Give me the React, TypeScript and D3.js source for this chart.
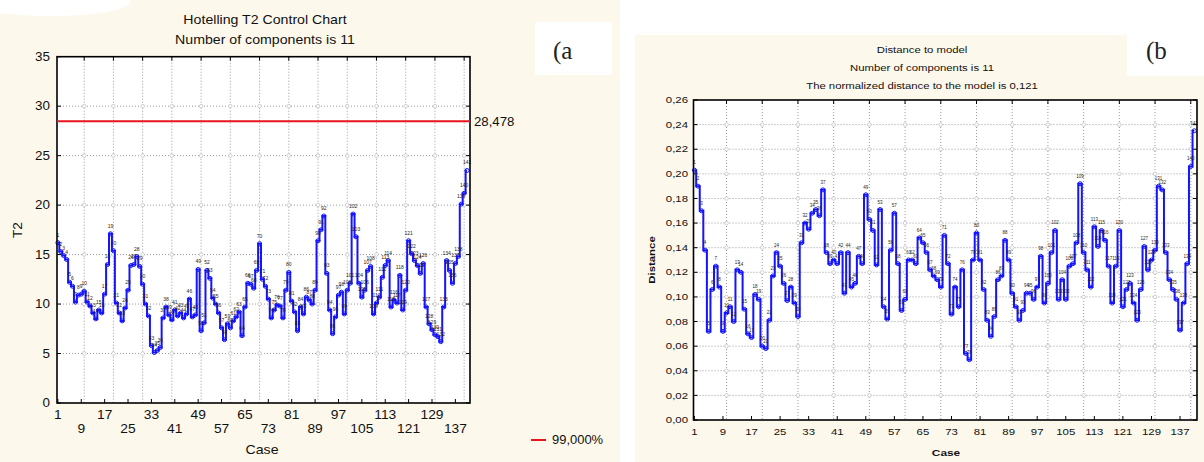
import * as d3 from 'd3'

// case numbers on the x axis (1..141)
const CASES = d3.range(1, 142)

// Hotelling T2 per case
const T2_VALUES = [
  16.2, 15.3, 14.9, 14.5, 12.2, 11.8, 10.2, 10.9, 11.0, 11.3,
  10.2, 9.8, 9.1, 8.5, 9.4, 9.1, 11.0, 14.0, 17.1, 15.4,
  10.1, 9.1, 8.3, 9.6, 11.4, 13.9, 14.0, 14.8, 13.8, 12.0,
  10.0, 8.8, 5.8, 5.1, 5.3, 5.6, 8.6, 9.7, 8.9, 8.4,
  9.4, 8.8, 9.1, 8.6, 9.0, 10.5, 8.7, 8.9, 13.5, 7.3,
  8.1, 13.4, 12.6, 10.6, 10.0, 9.1, 7.6, 6.4, 8.0, 7.6,
  8.3, 8.7, 9.2, 6.8, 9.7, 12.1, 12.0, 11.6, 13.4, 16.1,
  12.5, 11.8, 10.5, 8.6, 9.4, 9.9, 9.8, 8.6, 11.4, 13.2,
  10.3, 9.2, 7.3, 9.7, 9.0, 10.7, 10.4, 10.0, 11.4, 16.4,
  17.5, 18.9, 13.1, 9.4, 7.0, 8.7, 10.9, 11.2, 9.0, 11.4,
  12.1, 19.1, 16.8, 12.1, 10.7, 11.4, 13.4, 13.8, 9.0, 10.1,
  10.7, 12.7, 13.9, 14.4, 9.7, 10.4, 10.1, 12.9, 9.4, 11.4,
  16.4, 15.1, 14.4, 13.9, 13.1, 14.1, 9.7, 8.0, 7.4, 6.9,
  6.7, 6.2, 9.7, 14.4, 13.4, 12.1, 14.1, 14.8, 20.1, 21.2,
  23.5,
]

// distance to model per case
const DIST_VALUES = [
  0.203, 0.19, 0.17, 0.138, 0.072, 0.106, 0.125, 0.108, 0.072, 0.087,
  0.092, 0.08, 0.122, 0.12, 0.09, 0.07, 0.067, 0.102, 0.098, 0.06,
  0.058, 0.081, 0.117, 0.136, 0.125, 0.111, 0.097, 0.108, 0.095, 0.084,
  0.144, 0.16, 0.155, 0.168, 0.171, 0.166, 0.187, 0.136, 0.127, 0.13,
  0.127, 0.136, 0.103, 0.136, 0.108, 0.111, 0.133, 0.127, 0.183, 0.163,
  0.154, 0.126, 0.171, 0.092, 0.082, 0.138, 0.168, 0.127, 0.089, 0.098,
  0.13, 0.13, 0.127, 0.148, 0.144, 0.136, 0.122, 0.117, 0.114, 0.108,
  0.15, 0.127, 0.086, 0.108, 0.092, 0.122, 0.054, 0.049, 0.13, 0.152,
  0.13, 0.106, 0.081, 0.068, 0.084, 0.114, 0.117, 0.146, 0.13, 0.103,
  0.092, 0.081, 0.089, 0.103, 0.103, 0.098, 0.108, 0.133, 0.095, 0.111,
  0.136, 0.154, 0.098, 0.114, 0.098, 0.125, 0.127, 0.144, 0.192, 0.136,
  0.122, 0.108, 0.157, 0.141, 0.154, 0.146, 0.125, 0.095, 0.125, 0.154,
  0.092, 0.106, 0.111, 0.095, 0.081, 0.106, 0.141, 0.122, 0.13, 0.138,
  0.19, 0.187, 0.136, 0.114, 0.106, 0.098, 0.073, 0.095, 0.127, 0.206,
  0.235,
]

const T2_LIMIT = 28.478
const T2_TICKS = [0, 5, 10, 15, 20, 25, 30, 35]
const DIST_TICKS = [0, 0.02, 0.04, 0.06, 0.08, 0.1, 0.12, 0.14, 0.16, 0.18, 0.2, 0.22, 0.24, 0.26]
const CASE_LABELS = [1, 9, 17, 25, 33, 41, 49, 57, 65, 73, 81, 89, 97, 105, 113, 121, 129, 137]
const GRID_CASES = [10, 20, 30, 40, 50, 60, 70, 80, 90, 100, 110, 120, 130, 140]

const CREAM = '#fdf8ec'
const BLUE = '#1414ff'
const FONT = "'Liberation Sans', Arial, sans-serif"

function Txt({ x, y, size, sx = 1, anchor = 'middle', rotate = 0, fill = '#111', weight = 'normal', family = FONT, children }: any) {
  return (
    <text
      transform={`translate(${x},${y}) rotate(${rotate}) scale(${sx},1)`}
      fontSize={size}
      fontFamily={family}
      fontWeight={weight}
      textAnchor={anchor}
      dominantBaseline="central"
      fill={fill}
    >
      {children}
    </text>
  )
}

const comma = (v: number, d: number) => v.toFixed(d).replace('.', ',')

function Panel({ values, x, y, yTicks, fmt, tickSize, tsx, labelX, ptFont }: any) {
  const [x0, x1] = x.range()
  const [y0, y1] = y.range()
  const line = d3
    .line<number>()
    .x((_, i) => x(CASES[i]))
    .y((d) => y(d))
    .curve(d3.curveStep)

  return (
    <g>
      <rect x={x0} y={y1} width={x1 - x0} height={y0 - y1} fill="#fff" />
      {/* grid */}
      {yTicks.filter((t: number) => t > y.domain()[0] && t < y.domain()[1]).map((t: number) => (
        <line key={'h' + t} x1={x0} x2={x1} y1={y(t)} y2={y(t)} stroke="#9a9a9a" strokeDasharray="1 2" />
      ))}
      {GRID_CASES.map((c) => (
        <line key={'v' + c} x1={x(c)} x2={x(c)} y1={y1} y2={y0} stroke="#9a9a9a" strokeDasharray="1 2" />
      ))}
      {GRID_CASES.flatMap((c) =>
        yTicks.filter((t: number) => t > y.domain()[0] && t < y.domain()[1]).map((t: number) => (
          <circle key={c + '-' + t} cx={x(c)} cy={y(t)} r={1.8} fill="#fff" stroke="#c4c4c4" strokeWidth={0.8} />
        ))
      )}
      {/* inner ticks */}
      {yTicks.map((t: number) => (
        <g key={'yt' + t}>
          <line x1={x0} x2={x0 + 4} y1={y(t)} y2={y(t)} stroke="#000" />
          <line x1={x1 - 4} x2={x1} y1={y(t)} y2={y(t)} stroke="#000" />
        </g>
      ))}
      {GRID_CASES.map((c) => (
        <line key={'tt' + c} x1={x(c)} x2={x(c)} y1={y1} y2={y1 + 4} stroke="#000" />
      ))}
      {CASE_LABELS.map((c) => (
        <line key={'bt' + c} x1={x(c)} x2={x(c)} y1={y0} y2={y0 - 4} stroke="#000" />
      ))}
      {/* series */}
      {values.map((v: number, i: number) => (
        <circle key={'m' + i} cx={x(CASES[i])} cy={y(v)} r={2} fill="#fff" stroke={BLUE} strokeWidth={1} />
      ))}
      <path d={line(values) || ''} fill="none" stroke={BLUE} strokeWidth={2} />
      {values.map((v: number, i: number) => (
        <text key={'l' + i} x={x(CASES[i])} y={y(v) - 6} fontSize={ptFont} fontFamily={FONT} textAnchor="middle" fill="#2a1c10">
          {CASES[i]}
        </text>
      ))}
      <rect x={x0} y={y1} width={x1 - x0} height={y0 - y1} fill="none" stroke="#000" strokeWidth={1.6} />
      {/* y labels */}
      {yTicks.map((t: number) => (
        <Txt key={'yl' + t} x={labelX} y={y(t)} size={tickSize} sx={tsx} anchor="end">
          {fmt(t)}
        </Txt>
      ))}
    </g>
  )
}

export default function App() {
  const xA = d3.scaleLinear().domain([0.7, 142]).range([57, 470])
  const yA = d3.scaleLinear().domain([0, 35]).range([403, 56.7])
  const xB = d3.scaleLinear().domain([0.75, 141.75]).range([693.5, 1197])
  const yB = d3.scaleLinear().domain([0, 0.26]).range([420, 100])

  return (
    <svg width={1204} height={462} style={{ position: 'absolute', left: 0, top: 0 }}>
      <rect x={0} y={0} width={1204} height={462} fill={CREAM} />
      <ellipse cx={50} cy={2} rx={80} ry={14} fill="#fff" />
      <rect x={620} y={0} width={584} height={35} fill="#fff" />
      <rect x={620} y={0} width={15} height={462} fill="#fff" />
      <rect x={535} y={22} width={77} height={53} fill="#fff" />
      <rect x={1127} y={0} width={77} height={76} fill="#fff" />
      <Txt x={553} y={50} size={25} anchor="start" family="'Liberation Serif', serif" fill="#222">(a</Txt>
      <Txt x={1146} y={50} size={25} anchor="start" family="'Liberation Serif', serif" fill="#222">(b</Txt>

      {/* panel a */}
      <Txt x={265} y={20} size={12} sx={1.18}>Hotelling T2 Control Chart</Txt>
      <Txt x={265} y={40} size={12} sx={1.18}>Number of components is 11</Txt>
      <Panel values={T2_VALUES} x={xA} y={yA} yTicks={T2_TICKS} fmt={(t: number) => String(t)} tickSize={12} tsx={1.12} labelX={50} ptFont={5} />
      <line x1={xA.range()[0]} x2={xA.range()[1]} y1={yA(T2_LIMIT)} y2={yA(T2_LIMIT)} stroke="#e8141e" strokeWidth={2} />
      <Txt x={474} y={yA(T2_LIMIT) + 1} size={12} sx={1.1} anchor="start">{comma(T2_LIMIT, 3)}</Txt>
      {CASE_LABELS.map((c, i) => (
        <Txt key={c} x={xA(c)} y={i % 2 === 0 ? 415 : 429} size={12} sx={1.15}>{c}</Txt>
      ))}
      <Txt x={262} y={450} size={12} sx={1.18}>Case</Txt>
      <Txt x={18} y={230} size={12} sx={1.15} rotate={-90}>T2</Txt>
      <line x1={531} x2={546} y1={440} y2={440} stroke="#e8141e" strokeWidth={2} />
      <Txt x={552} y={440} size={12} sx={1.08} anchor="start">99,000%</Txt>

      {/* panel b */}
      <Txt x={922} y={50} size={9} sx={1.26}>Distance to model</Txt>
      <Txt x={922} y={68} size={9} sx={1.26}>Number of components is 11</Txt>
      <Txt x={922} y={86} size={9} sx={1.26}>The normalized distance to the model is 0,121</Txt>
      <Panel values={DIST_VALUES} x={xB} y={yB} yTicks={DIST_TICKS} fmt={(t: number) => comma(t, 2)} tickSize={9.5} tsx={1.2} labelX={688} ptFont={4.5} />
      {CASE_LABELS.map((c) => (
        <Txt key={c} x={xB(c)} y={432} size={9.5} sx={1.2}>{c}</Txt>
      ))}
      <Txt x={946} y={452} size={9.5} sx={1.25} weight="bold">Case</Txt>
      <Txt x={652} y={260} size={9.5} sx={1.2} rotate={-90} weight="bold">Distance</Txt>
    </svg>
  )
}
